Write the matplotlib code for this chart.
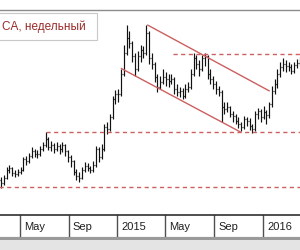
import matplotlib
matplotlib.use("Agg")
import matplotlib.pyplot as plt
import matplotlib.dates as mdates
from matplotlib.patches import Rectangle
import pandas as pd

# weekly bars (arbitrary price units)
weeks = pd.date_range("2014-03-08", periods=109, freq="7D")
opens = [38, 35, 32, 37, 45, 47, 42, 41, 43, 45, 55, 53, 58, 63, 60, 60, 65, 69, 75, 67,
         69, 65, 68, 65, 69, 63, 57, 53, 43, 39, 37, 45, 49, 47, 45, 50, 65, 57, 65, 87,
         85, 97, 115, 120, 120, 140, 160, 175, 170, 157, 145, 157, 163, 160, 180, 155, 150, 137, 127, 132,
         137, 135, 133, 135, 125, 122, 123, 118, 125, 127, 140, 155, 150, 145, 155, 157, 140, 135, 130, 125,
         122, 107, 105, 107, 100, 98, 93, 90, 87, 95, 93, 88, 85, 100, 103, 97, 102, 99, 110, 123,
         130, 140, 147, 150, 148, 147, 143, 149, 151]
highs = [42, 38, 40, 48, 50, 48, 45, 46, 48, 57, 58, 61, 67, 65, 64, 68, 72, 82, 77, 73,
         71, 72, 70, 72, 70, 64, 59, 54, 46, 43, 48, 52, 51, 49, 53, 68, 67, 70, 90, 92,
         100, 118, 124, 125, 145, 168, 188, 182, 172, 160, 162, 168, 167, 188, 182, 160, 152, 140, 138, 145,
         142, 140, 140, 137, 130, 127, 126, 130, 132, 145, 160, 158, 153, 158, 160, 158, 145, 138, 133, 128,
         124, 112, 112, 108, 103, 100, 97, 92, 98, 97, 96, 90, 103, 106, 105, 108, 104, 112, 128, 135,
         145, 152, 155, 153, 152, 150, 152, 154, 156]
lows = [30, 27, 30, 36, 42, 39, 38, 39, 41, 44, 50, 51, 56, 57, 56, 58, 63, 67, 64, 63,
        61, 63, 60, 62, 58, 52, 48, 40, 35, 33, 36, 43, 44, 42, 43, 48, 52, 55, 63, 80,
        83, 95, 110, 112, 118, 138, 158, 165, 152, 138, 143, 152, 155, 158, 150, 145, 132, 122, 125, 130,
        128, 127, 130, 120, 118, 117, 115, 116, 122, 125, 138, 145, 138, 143, 148, 135, 130, 125, 120, 118,
        92, 100, 102, 97, 92, 90, 86, 83, 85, 88, 84, 81, 83, 95, 92, 95, 90, 96, 107, 120,
        126, 137, 143, 142, 143, 140, 141, 146, 148]
closes = [35, 32, 37, 45, 47, 42, 41, 43, 45, 55, 53, 58, 63, 60, 60, 65, 69, 75, 67, 69,
          65, 68, 65, 69, 63, 57, 53, 43, 39, 37, 45, 49, 47, 45, 50, 65, 57, 65, 87, 85,
          97, 115, 120, 120, 140, 160, 175, 170, 157, 145, 157, 163, 160, 180, 155, 150, 137, 127, 132, 137,
          135, 133, 135, 125, 122, 123, 118, 125, 127, 140, 155, 150, 145, 155, 157, 140, 135, 130, 125, 122,
          107, 105, 107, 100, 98, 93, 90, 87, 95, 93, 88, 85, 100, 103, 97, 102, 99, 110, 123, 130,
          140, 147, 150, 148, 147, 143, 149, 151, 152]

# falling channel
upper_dates = ["2015-03-18", "2016-01-16"]
upper_prices = [188, 123]
lower_dates = ["2015-01-11", "2015-11-06"]
lower_prices = [145, 82]

# horizontal levels: (start date, price)
levels = [("2015-05-21", 159), ("2014-07-05", 82), ("2014-03-01", 28)]

tick_dates = ["2014-01-01", "2014-05-01", "2014-09-01", "2015-01-01",
              "2015-05-01", "2015-09-01", "2016-01-01"]
tick_labels = ["2014", "May", "Sep", "2015", "May", "Sep", "2016"]

title = "CA, недельный"

red = "#cc5f5f"
plt.rcParams["font.family"] = ["Liberation Sans", "DejaVu Sans"]

fig = plt.figure(figsize=(3, 2.5), dpi=100)
fig.patch.set_facecolor("white")
# grey shadow under the time scale
fig.patches.append(Rectangle((0, 0), 1, 0.052, transform=fig.transFigure,
                             facecolor="#e4e4e4", edgecolor="none", zorder=0))
fig.patches.append(Rectangle((0, 0.040), 1, 0.012, transform=fig.transFigure,
                             facecolor="#9a9a9a", edgecolor="none", zorder=0))

ax = fig.add_axes([-0.01, 0.14, 1.02, 0.82])
band = fig.add_axes([-0.01, 0.052, 1.02, 0.088], sharex=ax)

x = mdates.date2num(weeks)
ax.vlines(x, lows, highs, color="#111111", linewidth=0.85)
ax.hlines(opens, x - 2.5, x, color="#111111", linewidth=0.85)
ax.hlines(closes, x, x + 2.5, color="#111111", linewidth=0.85)

ax.plot(pd.to_datetime(upper_dates), upper_prices, color=red, linewidth=1.0)
ax.plot(pd.to_datetime(lower_dates), lower_prices, color=red, linewidth=1.0)
for start, level in levels:
    ax.hlines(level, mdates.date2num(pd.Timestamp(start)), mdates.datestr2num("2016-05-01"),
              color=red, linewidth=1.0, linestyles=(0, (3, 2.5)))

ax.set_xlim(mdates.datestr2num("2014-03-05"), mdates.datestr2num("2016-04-10"))
ax.set_ylim(0, 203)
ax.set_xticks([])
ax.set_yticks([])
for side in ["left", "right", "bottom"]:
    ax.spines[side].set_visible(False)
ax.spines["top"].set_color("#8c8c8c")
ax.spines["top"].set_linewidth(1.0)

# title box in the top-left corner
fig.patches.append(Rectangle((-0.01, 0.84), 0.333, 0.108, transform=fig.transFigure,
                             facecolor="white", edgecolor="#c8c8c8", linewidth=0.8,
                             zorder=5))
fig.text(0.008, 0.893, title, ha="left", va="center", fontsize=8.5,
         color="#9b2a2a", zorder=6)

band.set_ylim(0, 1)
band.set_xticks([])
band.set_yticks([])
for side in ["left", "right"]:
    band.spines[side].set_visible(False)
band.spines["top"].set_color("#303030")
band.spines["top"].set_linewidth(1.2)
band.spines["bottom"].set_color("#606060")
for d, lab in zip(tick_dates, tick_labels):
    xd = mdates.datestr2num(d)
    band.axvline(xd, color="#505050", linewidth=1.0)
    band.annotate(lab, (xd, 0.45), xytext=(3, 0), textcoords="offset points",
                  ha="left", va="center", fontsize=8, color="#202020")

fig.savefig("out.png", dpi=100)
